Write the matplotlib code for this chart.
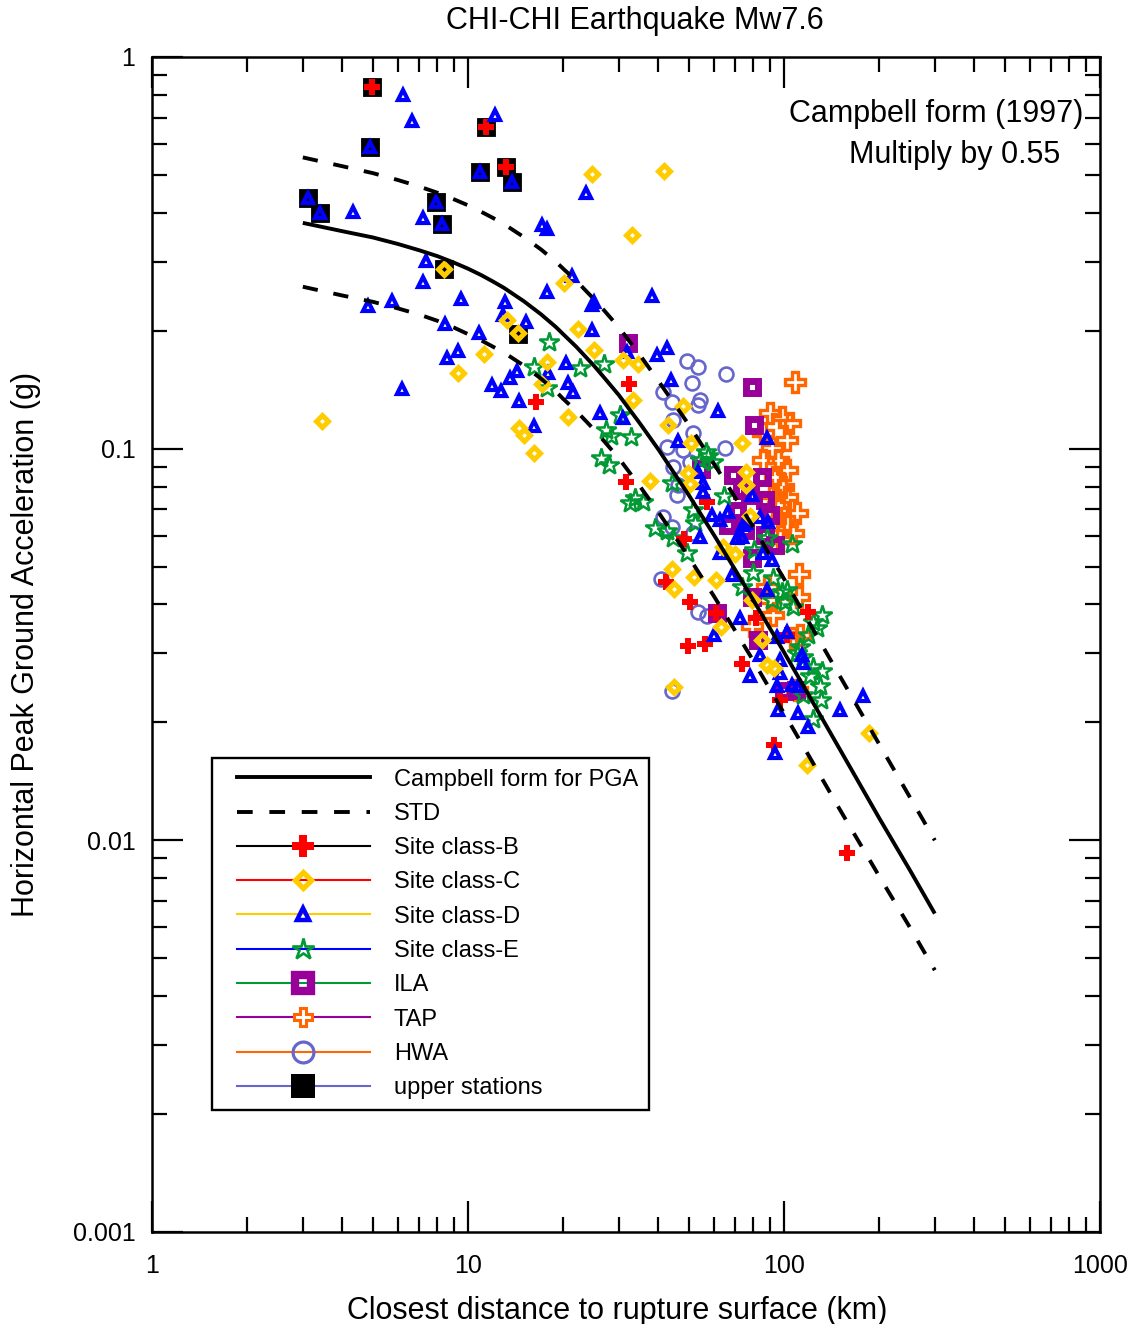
import numpy as np
import matplotlib
matplotlib.use('Agg')
import matplotlib.pyplot as plt
from matplotlib.lines import Line2D
from matplotlib.markers import MarkerStyle
from matplotlib.legend_handler import HandlerLine2D
from matplotlib.ticker import FixedLocator, FixedFormatter, LogLocator, NullFormatter

plt.rcParams['font.family'] = ['Liberation Sans', 'DejaVu Sans']
plt.rcParams['lines.scale_dashes'] = False

# ---------------- data ----------------
curve_r = [3, 4, 5, 6, 7, 8, 9, 10, 11, 12, 13, 15, 17, 19, 20, 22, 25, 27, 30, 35, 40, 50, 60,
           70, 80, 100, 120, 150, 200, 250, 300]
pga_model = [0.377, 0.359, 0.346, 0.333, 0.321, 0.310, 0.2987, 0.288, 0.2774, 0.267, 0.2572,
             0.238, 0.2204, 0.2041, 0.196, 0.182, 0.163, 0.1516, 0.137, 0.1159, 0.0996, 0.0760,
             0.0602, 0.0491, 0.0410, 0.0302, 0.0234, 0.0171, 0.0114, 0.0084, 0.0065]
pga_upper = [0.554, 0.526, 0.505, 0.485, 0.467, 0.450, 0.4334, 0.418, 0.4025, 0.388, 0.3742,
             0.347, 0.3227, 0.2996, 0.288, 0.2683, 0.241, 0.2250, 0.204, 0.1733, 0.149, 0.115,
             0.0915, 0.0751, 0.0629, 0.0465, 0.0360, 0.0263, 0.0176, 0.0129, 0.0100]
pga_lower = [0.259, 0.246, 0.237, 0.228, 0.220, 0.212, 0.2039, 0.196, 0.1890, 0.182, 0.1758,
             0.163, 0.1510, 0.1398, 0.134, 0.1248, 0.112, 0.1043, 0.0945, 0.0801, 0.0689, 0.0528,
             0.0420, 0.0343, 0.0287, 0.0211, 0.0164, 0.0120, 0.0081, 0.0060, 0.00466]

upper_x = [4.96, 4.90, 3.11, 3.40, 11.4, 13.2, 10.9, 13.75, 7.90, 8.26, 8.38, 14.4]
upper_y = [0.840, 0.590, 0.437, 0.400, 0.664, 0.525, 0.507, 0.478, 0.425, 0.374, 0.288, 0.196]

b_x = [4.96, 11.4, 13.2, 16.39, 32.4, 31.6, 56.9, 48.3, 42.3, 50.4, 61.1, 81.4, 118.7, 102.0,
       49.7, 56.4, 73.5, 96.9, 92.8, 157.9]
b_y = [0.840, 0.664, 0.525, 0.1312, 0.1460, 0.0823, 0.0732, 0.0587, 0.0456, 0.0405, 0.0381,
       0.0369, 0.0382, 0.0335, 0.0313, 0.0317, 0.0282, 0.0228, 0.0175, 0.0093]

c_x = [8.38, 13.26, 14.36, 11.23, 9.28, 3.45, 14.53, 15.04, 16.18, 24.63, 41.72, 33.04, 20.13,
       22.24, 25.05, 17.82, 30.87, 34.39, 17.15, 33.36, 20.77, 48.0, 42.79, 50.89, 73.46, 37.66,
       49.80, 50.41, 75.97, 75.97, 78.05, 64.25, 69.97, 44.12, 51.79, 60.92, 44.93, 63.29, 85.02,
       88.18, 92.83, 44.93, 185.5, 118.5, 79.03]
c_y = [0.288, 0.2127, 0.197, 0.1742, 0.1563, 0.1178, 0.1127, 0.1083, 0.0973, 0.5018, 0.5126,
       0.3518, 0.2644, 0.2020, 0.1786, 0.1660, 0.1680, 0.1640, 0.1463, 0.1331, 0.1207, 0.1283,
       0.1149, 0.1034, 0.1036, 0.0825, 0.0865, 0.0810, 0.0874, 0.0808, 0.0674, 0.0561, 0.0538,
       0.0494, 0.0471, 0.0461, 0.0437, 0.0351, 0.0324, 0.0281, 0.0276, 0.0246, 0.0188, 0.0156,
       0.0411]

d_x = [4.90, 3.11, 3.40, 10.9, 13.75, 7.90, 8.26,
       6.24, 6.63, 12.17, 4.34, 7.19, 7.38, 7.21, 9.50, 13.10, 15.26, 12.94, 4.81, 5.73, 8.47,
       10.86, 17.11, 17.75, 17.75, 9.32, 8.60, 14.26, 13.58, 11.89, 12.69, 6.20, 14.50, 16.21,
       17.96, 23.63, 21.29, 25.10, 24.63, 38.30, 24.74, 20.42, 20.77, 21.54, 31.78, 39.55, 42.54,
       43.89, 61.96, 46.08, 88.18, 53.56, 55.55, 55.55, 79.03, 66.63, 62.72, 59.04, 83.98, 89.21,
       74.32, 73.46, 54.23, 75.80, 70.84, 86.0, 62.72, 91.43, 68.31, 88.18, 72.56, 60.04, 102.0,
       94.83, 83.98, 97.12, 78.05, 97.12, 94.83, 105.8, 111.0, 113.8, 115.1, 95.94, 111.0, 119.4,
       150.4, 177.4, 93.65, 26.17, 31.00]
d_y = [0.590, 0.437, 0.400, 0.507, 0.478, 0.425, 0.374,
       0.800, 0.686, 0.711, 0.403, 0.389, 0.301, 0.267, 0.2406, 0.2372, 0.211, 0.219, 0.2317,
       0.2378, 0.2078, 0.1974, 0.3725, 0.3632, 0.2517, 0.1776, 0.1707, 0.1579, 0.1518, 0.1455,
       0.1406, 0.1420, 0.1323, 0.1144, 0.1558, 0.4487, 0.2764, 0.2372, 0.2327, 0.2458, 0.2009,
       0.1652, 0.1469, 0.1398, 0.1769, 0.1735, 0.1810, 0.1498, 0.1248, 0.1046, 0.1063, 0.0873,
       0.0816, 0.0777, 0.0762, 0.0690, 0.0657, 0.0677, 0.0670, 0.0651, 0.0639, 0.0596, 0.0596,
       0.0645, 0.0590, 0.0540, 0.0540, 0.0520, 0.0476, 0.0436, 0.0369, 0.0334, 0.0341, 0.0331,
       0.0297, 0.0289, 0.0262, 0.0267, 0.0247, 0.0249, 0.0247, 0.0297, 0.0283, 0.0215, 0.0211,
       0.0195, 0.0215, 0.0233, 0.0167, 0.1234, 0.1195]

e_x = [18.05, 16.18, 17.75, 22.62, 26.99, 30.27, 27.33, 28.35, 32.81, 26.30, 28.01, 33.78,
       32.57, 35.87, 39.06, 42.54, 44.64, 49.21, 51.64, 52.29, 54.23, 56.65, 59.74, 57.47, 44.21,
       64.58, 88.18, 105.8, 80.37, 79.48, 92.50, 102.0, 98.33, 91.43, 100.7, 106.4, 131.6, 123.8,
       126.9, 119.4, 112.4, 115.1, 123.8, 131.6, 120.9, 130.0, 115.1, 130.8, 123.8, 109.7, 73.46]
e_y = [0.1872, 0.1612, 0.1424, 0.1604, 0.1642, 0.1219, 0.1116, 0.1077, 0.1073, 0.0945, 0.0908,
       0.0747, 0.0725, 0.0732, 0.0626, 0.0616, 0.0590, 0.0540, 0.0697, 0.0645, 0.0936, 0.0983,
       0.0926, 0.0955, 0.0816, 0.0757, 0.0593, 0.0570, 0.0551, 0.0481, 0.0467, 0.0436, 0.0431,
       0.0411, 0.0407, 0.0395, 0.0376, 0.0361, 0.0348, 0.0334, 0.0312, 0.0294, 0.0277, 0.0270,
       0.0262, 0.0247, 0.0235, 0.0228, 0.0204, 0.0300, 0.0444]

ila_x = [32.16, 79.03, 80.19, 69.12, 85.02, 71.01, 78.05, 87.10, 90.32, 75.26, 87.10, 66.49,
         93.65, 79.19, 61.24, 79.03, 82.45, 100.0, 109.1, 54.62, 73.63]
ila_y = [0.1858, 0.1439, 0.1151, 0.0857, 0.0848, 0.0694, 0.0762, 0.0739, 0.0677, 0.0620, 0.0602,
         0.0639, 0.0568, 0.0526, 0.0380, 0.0418, 0.0325, 0.0240, 0.0242, 0.0887, 0.0784]

tap_x = [108.3, 90.32, 98.33, 104.5, 86.0, 102.0, 91.43, 95.94, 86.0, 102.0, 93.65, 99.49, 91.43,
         102.0, 95.94, 109.7, 102.0, 93.65, 107.0, 97.12, 111.6, 111.8, 90.32, 92.50, 79.03, 112.4,
         106.8, 109.7, 88.18]
tap_y = [0.1483, 0.1231, 0.1207, 0.1161, 0.1094, 0.1052, 0.1002, 0.0936, 0.0936, 0.0882, 0.0848,
         0.0799, 0.0762, 0.0754, 0.0718, 0.0684, 0.0645, 0.0657, 0.0608, 0.0584, 0.0479, 0.0419,
         0.0411, 0.0376, 0.0353, 0.0334, 0.0329, 0.0242, 0.0444]

hwa_x = [49.32, 53.56, 65.53, 51.04, 41.51, 44.12, 54.23, 53.56, 44.64, 51.64, 42.54, 65.05, 44.64,
         50.41, 54.23, 46.29, 45.75, 41.51, 44.12, 51.64, 40.81, 53.45, 56.93, 44.12, 47.90]
hwa_y = [0.1674, 0.1620, 0.1548, 0.1469, 0.1398, 0.1318, 0.1331, 0.1293, 0.1183, 0.1094, 0.1012,
         0.1002, 0.0899, 0.0925, 0.0893, 0.0808, 0.0762, 0.0670, 0.0632, 0.0608, 0.0465, 0.0383,
         0.0374, 0.0241, 0.0992]

x_ticks = [1, 10, 100, 1000]
x_ticklabels = ['1', '10', '100', '1000']
y_ticks = [0.001, 0.01, 0.1, 1]
y_ticklabels = ['0.001', '0.01', '0.1', '1']

legend_labels = ['Campbell form for PGA', 'STD', 'Site class-B', 'Site class-C', 'Site class-D',
                 'Site class-E', 'ILA', 'TAP', 'HWA', 'upper stations']

# ---------------- styles ----------------
RED = '#ff0000'
GOLD = '#ffcc00'
BLUE = '#0000ff'
GREEN = '#009933'
PURPLE = '#990099'
ORANGE = '#ff6600'
SLATE = '#6666cc'

def mk(m, join='miter'):
    return MarkerStyle(m, joinstyle=join)

fig = plt.figure(figsize=(11.33, 13.24), dpi=100)
ax = fig.add_axes([0.1342, 0.0695, 0.8367, 0.8875])
ax.set_xscale('log')
ax.set_yscale('log')
ax.set_xlim(1, 1000)
ax.set_ylim(0.001, 1)

# scatter groups
ax.plot(upper_x, upper_y, ls='none', marker=mk('s', 'round'), ms=12.8, mfc='black', mec='black',
        mew=0.6, zorder=3)
ax.plot(hwa_x, hwa_y, ls='none', marker='o', ms=10.0, mfc='none', mec=SLATE, mew=1.9, zorder=4)
ax.plot(tap_x, tap_y, ls='none', marker=mk('P'), ms=15.0, mfc='none', mec=ORANGE, mew=2.4, zorder=5)
ax.plot(ila_x, ila_y, ls='none', marker=mk('s'), ms=8.0, mfc='none', mec=PURPLE, mew=5.0, zorder=6)
ax.plot(e_x, e_y, ls='none', marker=mk('*'), ms=14.5, mfc='none', mec=GREEN, mew=1.8, zorder=7)
ax.plot(b_x, b_y, ls='none', marker=mk('P'), ms=12.0, mfc=RED, mec=RED, mew=0, zorder=8)
ax.plot(d_x, d_y, ls='none', marker=mk('^'), ms=7.6, mfc='none', mec=BLUE, mew=3.0, zorder=9)
ax.plot(c_x, c_y, ls='none', marker=mk('D'), ms=6.0, mfc='none', mec=GOLD, mew=3.6, zorder=10)

# model curves
ax.plot(curve_r, pga_model, color='black', lw=2.8, zorder=12, solid_capstyle='butt',
        solid_joinstyle='round')
ax.plot(curve_r, pga_upper, color='black', lw=2.8, dashes=(11, 11.5), zorder=12)
ax.plot(curve_r, pga_lower, color='black', lw=2.8, dashes=(11, 11.5), zorder=12)

# axes formatting
ax.xaxis.set_major_locator(FixedLocator(x_ticks))
ax.xaxis.set_major_formatter(FixedFormatter(x_ticklabels))
ax.yaxis.set_major_locator(FixedLocator(y_ticks))
ax.yaxis.set_major_formatter(FixedFormatter(y_ticklabels))
ax.xaxis.set_minor_locator(LogLocator(base=10, subs=np.arange(2, 10)))
ax.yaxis.set_minor_locator(LogLocator(base=10, subs=np.arange(2, 10)))
ax.xaxis.set_minor_formatter(NullFormatter())
ax.yaxis.set_minor_formatter(NullFormatter())
ax.tick_params(which='major', direction='in', length=22, width=1.6, top=True, right=True,
               labelsize=18)
ax.tick_params(axis='x', which='major', pad=16)
ax.tick_params(axis='y', which='major', pad=12)
ax.tick_params(which='minor', direction='in', length=11, width=1.6, top=True, right=True)
for sp in ax.spines.values():
    sp.set_linewidth(1.8)

ax.set_xlabel('Closest distance to rupture surface (km)', fontsize=22, labelpad=13, x=0.491)
ax.set_ylabel('Horizontal Peak Ground Acceleration (g)', fontsize=22, labelpad=23)
ax.set_title('CHI-CHI Earthquake Mw7.6', fontsize=22, pad=20, x=0.5095)

ax.text(0.982, 0.9449, 'Campbell form (1997)', transform=ax.transAxes, ha='right',
        va='baseline', fontsize=22, zorder=20)
ax.text(0.958, 0.9098, 'Multiply by 0.55', transform=ax.transAxes, ha='right',
        va='baseline', fontsize=22, zorder=20)

# legend
class IndentHandler(HandlerLine2D):
    def __init__(self, indent=0.6, **kw):
        super().__init__(**kw)
        self.indent = indent

    def create_artists(self, legend, orig_handle, xdescent, ydescent, width, height,
                       fontsize, trans):
        ind = self.indent * fontsize
        return super().create_artists(legend, orig_handle, xdescent - ind, ydescent,
                                      width - ind, height, fontsize, trans)

handles = [
    Line2D([], [], color='black', lw=2.8),
    Line2D([], [], color='black', lw=2.8, dashes=(11.3, 12)),
    Line2D([], [], color='black', lw=1.5, marker=mk('P'), ms=16.5, mfc=RED, mec=RED, mew=0),
    Line2D([], [], color=RED, lw=1.5, marker=mk('D'), ms=8.0, mfc='none', mec=GOLD, mew=3.8),
    Line2D([], [], color=GOLD, lw=1.5, marker=mk('^'), ms=9.0, mfc='none', mec=BLUE, mew=3.2),
    Line2D([], [], color=BLUE, lw=1.5, marker=mk('*'), ms=16.0, mfc='none', mec=GREEN, mew=1.9),
    Line2D([], [], color=GREEN, lw=1.5, marker=mk('s'), ms=11.2, mfc='none', mec=PURPLE, mew=6.0),
    Line2D([], [], color=PURPLE, lw=1.5, marker=mk('P'), ms=13.0, mfc='white', mec=ORANGE, mew=2.2),
    Line2D([], [], color=ORANGE, lw=1.5, marker='o', ms=15.0, mfc='none', mec=SLATE, mew=2.3),
    Line2D([], [], color=SLATE, lw=1.5, marker=mk('s'), ms=17.0, mfc='black', mec='black', mew=0),
]
leg = ax.legend(handles, legend_labels, loc='upper left',
                bbox_to_anchor=(212 / 1133, 1 - 758 / 1324), bbox_transform=fig.transFigure,
                fontsize=17, frameon=True, fancybox=False, framealpha=1, edgecolor='black',
                borderpad=0.45, handlelength=6.25, handletextpad=1.0, labelspacing=0.52,
                borderaxespad=0, numpoints=1,
                handler_map={Line2D: IndentHandler(indent=0.6)})
leg.get_frame().set_linewidth(1.7)
leg.set_zorder(30)

fig.savefig('out.png', dpi=100)
